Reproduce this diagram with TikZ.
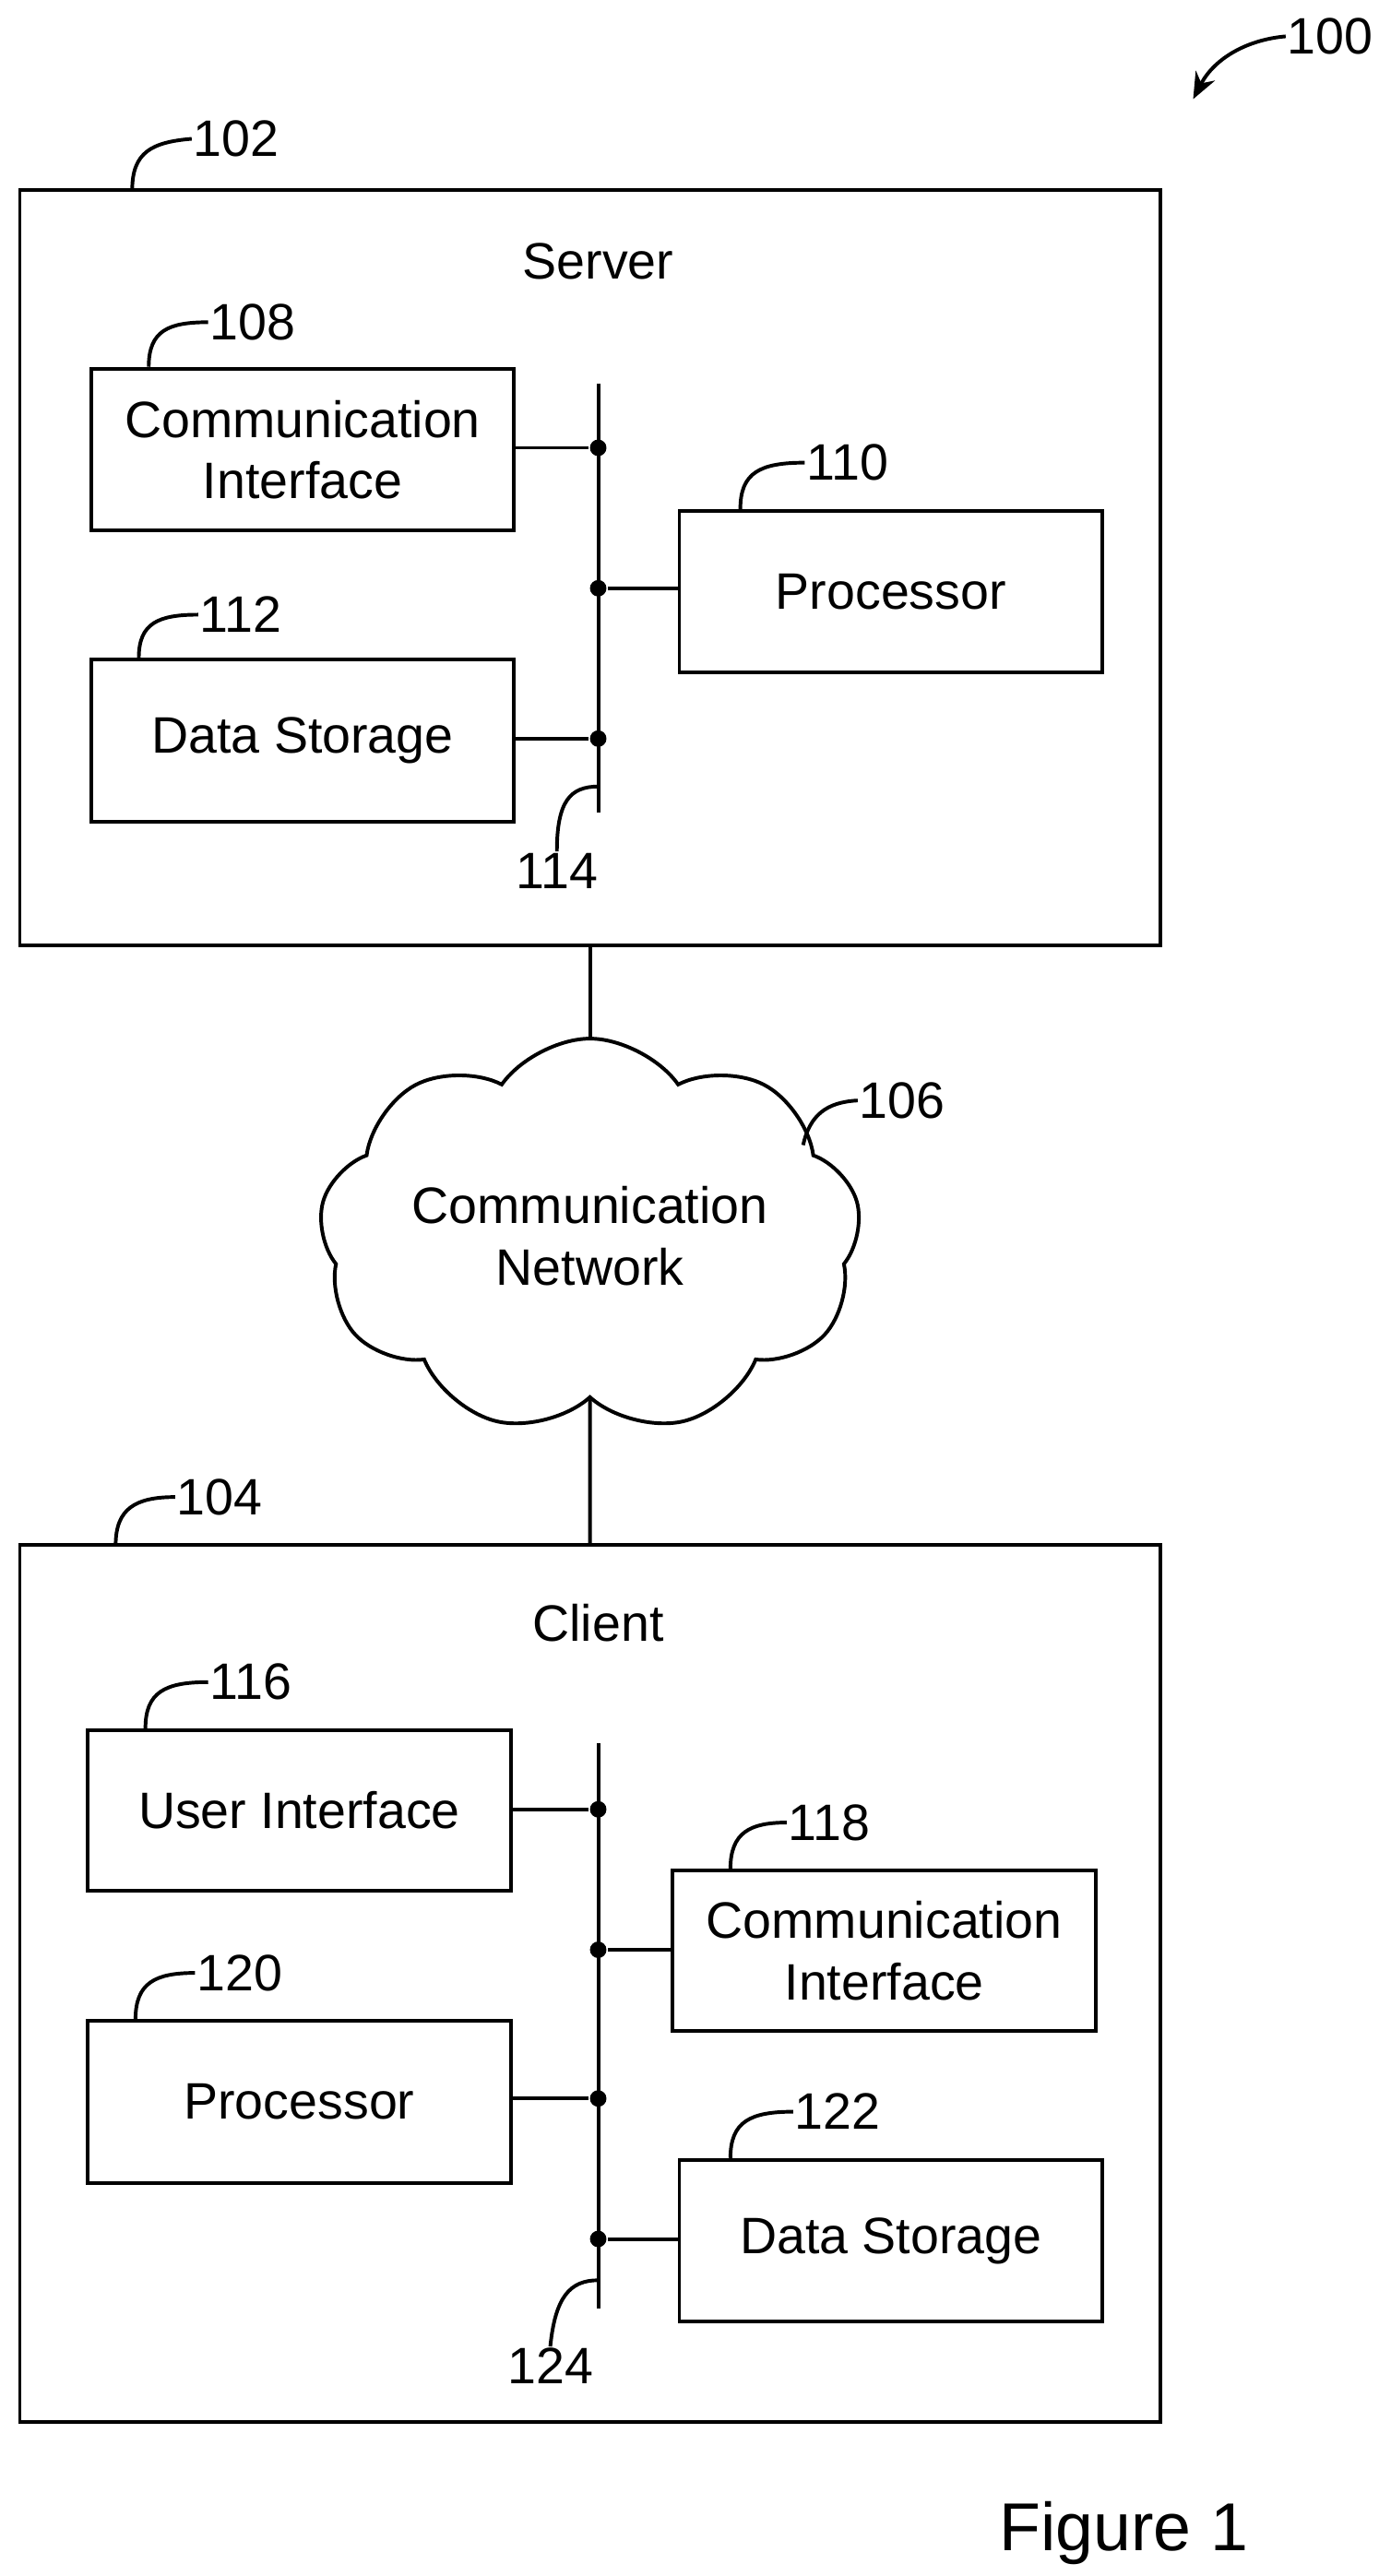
\documentclass[tikz,border=0pt]{standalone}
\usepackage{fontspec}
\setmainfont{Liberation Sans}
\usetikzlibrary{shapes.symbols,arrows.meta}
\begin{document}
\begin{tikzpicture}[x=1pt,y=-1pt,line width=2.2pt,
  txt/.style={font=\fontsize{31}{37}\selectfont,align=center,inner sep=0pt},
  box/.style={draw,txt,anchor=north west},
  lbl/.style={txt,anchor=west},
  dot/.style={circle,fill,inner sep=0pt,minimum size=10pt}]
\useasboundingbox (0,0) rectangle (834,1559);
% 100
\node[lbl] (l100) at (778,22) {100};
\coordinate (a100) at (722,60);
\draw[-{Stealth[length=16pt,width=13pt]}] (l100.west) .. controls (755,24) and (735,35) .. (a100);
% Server
\draw (12,115) rectangle (702,572);
\coordinate (srv) at (12,115);
\node[txt] (server) at (362,158) {Server};
\node[lbl] (l102) at (116,84) {102};
\draw (80,115) .. controls (80,92) and (92,86) .. (l102.west);
\node[box,minimum width=256pt,minimum height=98pt] (ci1) at (54,222) {Communication\\Interface};
\node[lbl] (l108) at (126,195) {108};
\draw (90,222) .. controls (90,200) and (102,195) .. (l108.west);
\node[box,minimum width=256pt,minimum height=98pt] (pr1) at (410,308) {Processor};
\node[lbl] (l110) at (487,280) {110};
\draw (448,308) .. controls (448,286) and (460,280) .. (l110.west);
\node[box,minimum width=256pt,minimum height=98pt] (ds1) at (54,398) {Data Storage};
\node[lbl] (l112) at (120,372) {112};
\draw (84,398) .. controls (84,377) and (96,372) .. (l112.west);
\coordinate (b1t) at (362,232); \coordinate (b1b) at (362,492);
\draw (b1t) -- (b1b);
\node[dot] (d11) at (362,271) {}; \node[dot] (d12) at (362,356) {}; \node[dot] (d13) at (362,447) {};
\draw (ci1.east|-d11) -- (d11); \draw (d12) -- (pr1.west|-d12); \draw (ds1.east|-d13) -- (d13);
\node[txt] (l114) at (337,527) {114};
\coordinate (h114) at (362,476);
\draw (h114) .. controls (345,476) and (337,485) .. (l114.north);
% Network
\node[cloud,draw,cloud puffs=9,cloud puff arc=110,aspect=1.55,minimum width=328pt,minimum height=220pt,txt] (net) at (357,748) {Communication\\Network};
\draw (357,572) -- (net.north);
\node[lbl] (l106) at (519,666) {106};
\draw (486,693) .. controls (490,675) and (500,667) .. (l106.west);
\draw (net.south) -- (357,935);
% Client
\draw (12,935) rectangle (702,1466);
\node[txt] (client) at (362,982) {Client};
\node[lbl] (l104) at (106,906) {104};
\draw (70,935) .. controls (70,913) and (82,906) .. (l104.west);
\node[box,minimum width=256pt,minimum height=97pt] (ui) at (52,1046) {User Interface};
\node[lbl] (l116) at (126,1018) {116};
\draw (88,1046) .. controls (88,1024) and (100,1018) .. (l116.west);
\node[box,minimum width=256pt,minimum height=97pt] (ci2) at (406,1131) {Communication\\Interface};
\node[lbl] (l118) at (476,1103) {118};
\draw (442,1131) .. controls (442,1109) and (454,1103) .. (l118.west);
\node[box,minimum width=256pt,minimum height=98pt] (pr2) at (52,1222) {Processor};
\node[lbl] (l120) at (118,1194) {120};
\draw (82,1222) .. controls (82,1200) and (94,1194) .. (l120.west);
\node[box,minimum width=256pt,minimum height=98pt] (ds2) at (410,1306) {Data Storage};
\node[lbl] (l122) at (480,1278) {122};
\draw (442,1306) .. controls (442,1284) and (454,1278) .. (l122.west);
\coordinate (b2t) at (362,1055); \coordinate (b2b) at (362,1397);
\draw (b2t) -- (b2b);
\node[dot] (d21) at (362,1095) {}; \node[dot] (d22) at (362,1180) {}; \node[dot] (d23) at (362,1270) {}; \node[dot] (d24) at (362,1355) {};
\draw (ui.east|-d21) -- (d21); \draw (d22) -- (ci2.west|-d22); \draw (pr2.east|-d23) -- (d23); \draw (d24) -- (ds2.west|-d24);
\node[txt] (l124) at (333,1432) {124};
\coordinate (h124) at (362,1380);
\draw (h124) .. controls (345,1380) and (336,1390) .. (l124.north);
\node[txt,font=\fontsize{41}{48}\selectfont] (fig) at (680,1533) {Figure 1};
\end{tikzpicture}
\end{document}
